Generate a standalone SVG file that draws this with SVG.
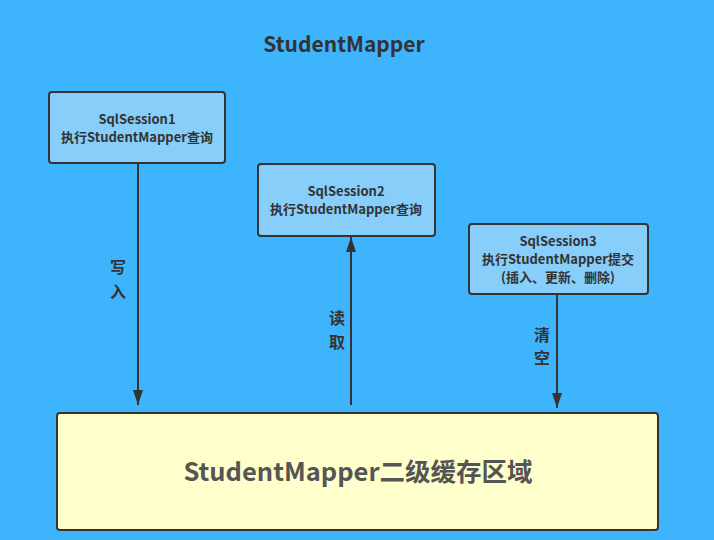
<svg xmlns="http://www.w3.org/2000/svg" width="714" height="540" viewBox="0 0 714 540">
<defs>
<style>
.node rect{fill:#87cefa;stroke:#333;stroke-width:2}
.t{font-family:"Noto Sans CJK SC","Liberation Sans",sans-serif;font-weight:bold;fill:#333;text-anchor:middle}
.s{font-size:13px}
.lbl{font-size:16px}
.edge{stroke:#333;stroke-width:2;fill:none}
</style>
<marker id="ah" viewBox="0 0 15 10" refX="15" refY="5" markerWidth="15" markerHeight="10" orient="auto" markerUnits="userSpaceOnUse">
<path d="M0,0 L15,5 L0,10 z" fill="#333"/>
</marker>
</defs>
<rect width="714" height="540" fill="#3eb4fd"/>
<text class="t" x="344" y="52" font-size="21">StudentMapper</text>
<g id="edges">
<line class="edge" x1="138" y1="164" x2="138" y2="405" marker-end="url(#ah)"/>
<line class="edge" x1="351" y1="405" x2="351" y2="237" marker-end="url(#ah)"/>
<line class="edge" x1="557" y1="295" x2="557" y2="408" marker-end="url(#ah)"/>
<text class="t lbl" x="118" y="273">写</text>
<text class="t lbl" x="118" y="298">入</text>
<text class="t lbl" x="337" y="324">读</text>
<text class="t lbl" x="337" y="348">取</text>
<text class="t lbl" x="542" y="341">清</text>
<text class="t lbl" x="542" y="364">空</text>
</g>
<g id="n1" class="node">
<rect x="49" y="92" width="176" height="71" rx="3"/>
<text class="t s" x="137" y="124">SqlSession1</text>
<text class="t s" x="137" y="142">执行StudentMapper查询</text>
</g>
<g id="n2" class="node">
<rect x="258" y="164" width="177" height="72" rx="3"/>
<text class="t s" x="346" y="196">SqlSession2</text>
<text class="t s" x="346" y="214">执行StudentMapper查询</text>
</g>
<g id="n3" class="node">
<rect x="469" y="224" width="179" height="70" rx="3"/>
<text class="t s" x="558" y="246">SqlSession3</text>
<text class="t s" x="558" y="264">执行StudentMapper提交</text>
<text class="t s" x="558" y="282">(插入、更新、删除)</text>
</g>
<g id="cache">
<rect x="57" y="413" width="601" height="117" rx="3" fill="#ffffcc" stroke="#333" stroke-width="2"/>
<text class="t" x="358" y="481" font-size="25.5" style="fill:#555">StudentMapper二级缓存区域</text>
</g>
</svg>
